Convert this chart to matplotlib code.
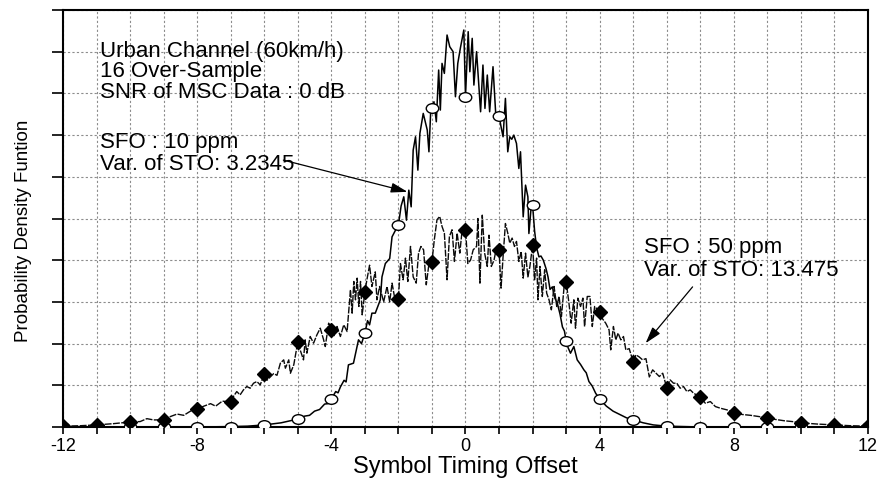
import numpy as np
import matplotlib
matplotlib.use('Agg')
import matplotlib.pyplot as plt
from matplotlib.path import Path
from matplotlib.transforms import Affine2D

plt.rcParams['font.family'] = ['Liberation Sans', 'DejaVu Sans']
plt.rcParams['axes.unicode_minus'] = False

# PDF of the symbol timing offset, y in grid divisions (0..10)
sfo10_trace = [
    (-12, 0.0), (-11, 0.0), (-10, 0.0), (-9, 0.0), (-8, 0.0), (-7, 0.01), (-6.5, 0.02), (-6, 0.05),
    (-5.5, 0.1), (-5, 0.19), (-4.8, 0.26), (-4.65, 0.28), (-4.5, 0.38), (-4.35, 0.42), (-4.2, 0.55),
    (-4.1, 0.56), (-4, 0.67), (-3.87, 0.85), (-3.8, 0.82), (-3.73, 0.96), (-3.62, 1.12), (-3.56, 1.08),
    (-3.49, 1.49), (-3.34, 1.53), (-3.19, 2.09), (-3.1, 2.0), (-3, 2.25), (-2.92, 2.55), (-2.86, 2.45),
    (-2.79, 2.73), (-2.69, 2.73), (-2.54, 3.05), (-2.49, 3.6), (-2.39, 3.92), (-2.26, 4.04),
    (-2.19, 4.56), (-2.1, 4.7), (-2, 4.84), (-1.92, 5.3), (-1.84, 5.52), (-1.76, 4.96), (-1.69, 5.68),
    (-1.62, 5.28), (-1.56, 6.64), (-1.49, 6.96), (-1.42, 6.16), (-1.36, 7.04), (-1.26, 7.52),
    (-1.14, 7.12), (-1.09, 6.6), (-1.04, 7.52), (-1, 7.65), (-0.94, 7.8), (-0.87, 7.32), (-0.8, 8.56),
    (-0.75, 7.6), (-0.7, 8.72), (-0.63, 8.48), (-0.55, 9.4), (-0.47, 9.12), (-0.37, 9.0), (-0.3, 7.92),
    (-0.23, 8.72), (-0.15, 9.1), (-0.05, 9.52), (0, 7.92), (0.08, 9.48), (0.13, 8.52), (0.2, 9.32),
    (0.25, 8.2), (0.33, 9.0), (0.45, 7.56), (0.52, 8.68), (0.58, 7.64), (0.65, 8.44), (0.72, 7.56),
    (0.82, 8.64), (0.9, 7.52), (1, 7.46), (1.06, 7.2), (1.12, 6.96), (1.19, 7.88), (1.26, 6.6),
    (1.32, 6.96), (1.38, 6.9), (1.44, 7.0), (1.52, 6.8), (1.59, 6.2), (1.64, 6.6), (1.72, 5.04),
    (1.79, 5.8), (1.86, 5.52), (1.89, 4.64), (1.95, 5.2), (2, 5.32), (2.06, 4.7), (2.12, 4.3),
    (2.19, 4.08), (2.25, 4.1), (2.32, 4.0), (2.4, 3.8), (2.46, 3.6), (2.52, 3.3), (2.59, 3.36),
    (2.66, 3.1), (2.74, 2.96), (2.82, 2.7), (2.89, 2.4), (2.95, 2.3), (3, 2.06), (3.06, 1.9),
    (3.13, 1.77), (3.23, 1.93), (3.33, 1.61), (3.43, 1.5), (3.53, 1.37), (3.6, 1.3), (3.68, 1.09),
    (3.78, 0.98), (3.88, 0.81), (4, 0.67), (4.2, 0.5), (4.4, 0.38), (4.6, 0.3), (4.8, 0.22),
    (5, 0.17), (5.3, 0.1), (5.6, 0.05), (6, 0.02), (6.5, 0.01), (7, 0.0), (8, 0.0), (9, 0.0),
    (10, 0.0), (11, 0.0), (12, 0.0),
]

sfo50_trace = [
    (-12, 0.02), (-11.5, 0.03), (-11, 0.05), (-10.5, 0.08), (-10, 0.12), (-9.7, 0.13), (-9.5, 0.2),
    (-9.3, 0.17), (-9, 0.17), (-8.8, 0.25), (-8.6, 0.31), (-8.4, 0.28), (-8.2, 0.38), (-8, 0.43),
    (-7.8, 0.5), (-7.6, 0.56), (-7.45, 0.5), (-7.25, 0.62), (-7, 0.6), (-6.92, 0.73), (-6.82, 0.85),
    (-6.72, 0.77), (-6.62, 0.89), (-6.52, 0.97), (-6.42, 0.93), (-6.32, 1.05), (-6.22, 1.09),
    (-6.12, 1.01), (-6, 1.27), (-5.92, 1.12), (-5.82, 1.2), (-5.72, 1.28), (-5.62, 1.24),
    (-5.52, 1.53), (-5.42, 1.61), (-5.37, 1.41), (-5.27, 1.61), (-5.22, 1.29), (-5.12, 1.49),
    (-5, 2.04), (-4.93, 1.85), (-4.83, 1.61), (-4.78, 2.09), (-4.73, 1.77), (-4.63, 2.17),
    (-4.53, 2.01), (-4.43, 2.21), (-4.33, 2.37), (-4.23, 2.09), (-4.18, 1.93), (-4.08, 2.49),
    (-4, 2.33), (-3.93, 2.17), (-3.83, 2.41), (-3.73, 2.17), (-3.63, 2.45), (-3.53, 2.29),
    (-3.43, 3.29), (-3.38, 2.73), (-3.33, 3.49), (-3.28, 3.05), (-3.23, 3.57), (-3.18, 2.89),
    (-3.13, 3.49), (-3.08, 2.69), (-3, 3.24), (-2.94, 3.53), (-2.86, 3.88), (-2.79, 3.37),
    (-2.69, 3.72), (-2.64, 3.05), (-2.56, 3.37), (-2.44, 3.0), (-2.34, 3.37), (-2.26, 3.0),
    (-2.19, 3.45), (-2.09, 3.0), (-2, 3.07), (-1.94, 3.92), (-1.86, 3.53), (-1.79, 4.05),
    (-1.72, 3.49), (-1.64, 4.33), (-1.56, 3.6), (-1.47, 3.45), (-1.4, 4.17), (-1.33, 4.33),
    (-1.25, 4.25), (-1.17, 3.41), (-1.1, 3.85), (-1, 3.96), (-0.93, 4.49), (-0.85, 4.97),
    (-0.77, 5.05), (-0.7, 4.81), (-0.63, 4.65), (-0.55, 3.53), (-0.48, 4.57), (-0.4, 4.73),
    (-0.33, 3.97), (-0.25, 4.65), (-0.17, 4.17), (-0.1, 4.73), (-0.05, 4.57), (0, 4.72),
    (0.07, 3.92), (0.15, 4.0), (0.23, 4.25), (0.33, 4.33), (0.37, 5.0), (0.43, 3.45), (0.5, 5.08),
    (0.57, 4.17), (0.65, 3.85), (0.7, 4.6), (0.77, 3.85), (0.85, 4.0), (0.93, 4.33), (1, 4.24),
    (1.06, 3.33), (1.12, 4.08), (1.19, 4.88), (1.26, 4.65), (1.32, 4.41), (1.39, 4.53),
    (1.46, 4.33), (1.52, 4.45), (1.59, 3.97), (1.66, 4.21), (1.72, 3.57), (1.79, 4.17),
    (1.86, 3.6), (1.92, 3.85), (2, 4.36), (2.06, 3.53), (2.12, 4.05), (2.16, 3.05), (2.22, 3.85),
    (2.29, 3.13), (2.36, 3.77), (2.42, 3.21), (2.49, 3.05), (2.56, 2.81), (2.64, 3.37),
    (2.72, 2.89), (2.79, 3.13), (2.86, 2.65), (2.94, 3.37), (3, 3.48), (3.08, 3.0), (3.15, 2.49),
    (3.23, 3.05), (3.28, 2.37), (3.35, 3.09), (3.43, 2.89), (3.5, 3.09), (3.55, 2.41), (3.63, 3.13),
    (3.71, 3.13), (3.78, 2.41), (3.85, 2.89), (4, 2.76), (4.08, 2.6), (4.18, 2.49), (4.28, 2.33),
    (4.33, 1.85), (4.41, 2.41), (4.48, 2.09), (4.55, 2.25), (4.63, 2.09), (4.71, 2.17),
    (4.78, 1.85), (4.88, 1.88), (5, 1.56), (5.08, 1.73), (5.18, 1.68), (5.28, 1.61), (5.38, 1.64),
    (5.48, 1.2), (5.58, 1.37), (5.68, 1.29), (5.78, 1.21), (5.88, 1.29), (6, 0.94), (6.1, 1.13),
    (6.2, 1.05), (6.3, 1.05), (6.4, 0.93), (6.5, 0.97), (6.6, 0.85), (6.7, 0.89), (6.8, 0.81),
    (7, 0.72), (7.15, 0.57), (7.3, 0.61), (7.45, 0.49), (7.6, 0.45), (7.8, 0.41), (8, 0.34),
    (8.25, 0.3), (8.5, 0.28), (8.75, 0.25), (9, 0.22), (9.25, 0.18), (9.5, 0.15), (9.75, 0.13),
    (10, 0.1), (10.5, 0.07), (11, 0.05), (11.5, 0.03), (12, 0.02),
]

sfo10_x, sfo10_y = np.array(sfo10_trace).T
sfo50_x, sfo50_y = np.array(sfo50_trace).T

x_ticks = [-12, -8, -4, 0, 4, 8, 12]


def integer_points(x):
    # markers sit on the whole-symbol offsets
    return np.flatnonzero(np.isclose(x, np.round(x)))


fig = plt.figure(figsize=(8.78, 4.78), dpi=100)
ax = fig.add_axes([63 / 878, 1 - 427 / 478, 805 / 878, 417 / 478])

ax.set_xlim(-12, 12)
ax.set_ylim(0, 10)
ax.set_xticks(x_ticks)
ax.set_xticks(np.arange(-12, 13), minor=True)
ax.set_yticks(np.arange(0, 11))
ax.set_yticklabels([])

grid_kw = dict(color='#8c8c8c', linewidth=0.8, linestyle=(0, (2, 2)))
ax.grid(True, which='both', axis='x', **grid_kw)
ax.grid(True, which='major', axis='y', **grid_kw)
ax.set_axisbelow(True)

ax.tick_params(axis='x', which='both', direction='out', length=5, width=1.2,
               labelsize=13, pad=3)
ax.tick_params(axis='y', which='major', direction='out', length=8, width=1.2)
for sp in ax.spines.values():
    sp.set_linewidth(1.5)

# wide oval for the 10 ppm markers
oval = Path.unit_circle().transformed(Affine2D().scale(1.3, 1.0))

ax.plot(sfo10_x, sfo10_y, color='black', linewidth=1.1, zorder=3)
ax.plot(sfo50_x, sfo50_y, color='#0a0a0a', linewidth=1.0,
        linestyle=(0, (5, 1)), zorder=3)
ax.plot(sfo10_x, sfo10_y, linestyle='none', marker=oval, markersize=9,
        markerfacecolor='white', markeredgecolor='black', markeredgewidth=1.0,
        markevery=list(integer_points(sfo10_x)), zorder=4)
ax.plot(sfo50_x, sfo50_y, linestyle='none', marker='D', markersize=7.5,
        color='black', markevery=list(integer_points(sfo50_x)), zorder=5)

ax.set_xlabel('Symbol Timing Offset', fontsize=17, va='baseline')
ax.xaxis.set_label_coords(0.5, -0.110)
ax.set_ylabel('Probability Density Funtion', fontsize=13.5)
ax.yaxis.set_label_coords(-0.0385, 0.47)

note_kw = dict(fontsize=16, ha='left', va='baseline', zorder=6)
ax.text(-10.9, 8.87, 'Urban Channel (60km/h)', **note_kw)
ax.text(-10.9, 8.39, '16 Over-Sample', **note_kw)
ax.text(-10.9, 7.89, 'SNR of MSC Data : 0 dB', **note_kw)
ax.text(-10.9, 6.69, 'SFO : 10 ppm', **note_kw)
ax.text(-10.9, 6.16, 'Var. of STO: 3.2345', **note_kw)
ax.text(5.31, 4.17, 'SFO : 50 ppm', **note_kw)
ax.text(5.31, 3.62, 'Var. of STO: 13.475', **note_kw)

arrow_kw = dict(arrowstyle='-|>,head_length=0.5,head_width=0.15', color='black',
                lw=0.9, shrinkA=0, shrinkB=0, mutation_scale=20)
ax.annotate('', xy=(-1.73, 5.64), xytext=(-5.43, 6.40), arrowprops=arrow_kw, zorder=6)
ax.annotate('', xy=(5.37, 2.01), xytext=(6.77, 3.36), arrowprops=arrow_kw, zorder=6)

fig.savefig('out.png', dpi=100)
